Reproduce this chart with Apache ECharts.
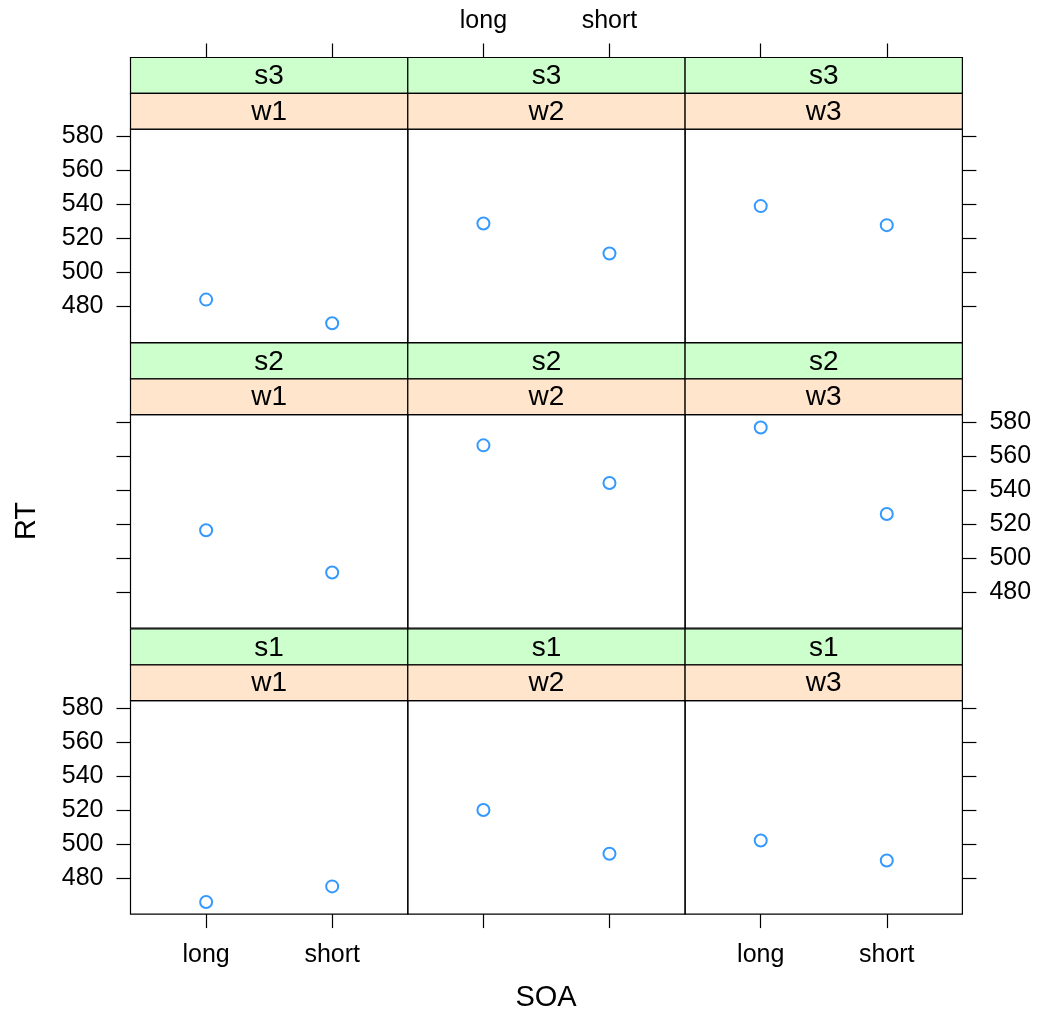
<!DOCTYPE html>
<html>
<head>
<meta charset="utf-8">
<script src="https://cdn.jsdelivr.net/npm/echarts@6/dist/echarts.min.js"></script>
<style>
  html, body { margin: 0; padding: 0; background: #fff; }
  #chart { width: 1037px; height: 1013px; }
</style>
</head>
<body>
<div id="chart"></div>
<script>
// data: RT by SOA, one panel per (s, w)
const soaLevels = ['long', 'short']
const wLevels = ['w1', 'w2', 'w3']
const sLevels = ['s3', 's2', 's1'] // top row to bottom row
const yTicks = [480, 500, 520, 540, 560, 580]

const rtS3Long = [484.0, 528.8, 539.0]
const rtS3Short = [470.1, 511.1, 527.8]
const rtS2Long = [516.3, 566.2, 576.7]
const rtS2Short = [491.4, 544.1, 525.8]
const rtS1Long = [465.8, 519.9, 502.0]
const rtS1Short = [475.0, 494.2, 490.2]

const rtByRow = [
  [rtS3Long, rtS3Short],
  [rtS2Long, rtS2Short],
  [rtS1Long, rtS1Short]
]

// layout
const FONT = '"Liberation Sans", Arial, Helvetica, sans-serif'
const left0 = 130.5
const colW = 277.3
const rowTop = [57.5, 343, 629]
const stripH = 35.8
const panelH = 213.5
const yMin = 458.7
const yMax = 584.3

const grids = []
const xAxes = []
const yAxes = []
const series = []
const graphics = []

for (let r = 0; r < 3; r++) {
  for (let c = 0; c < 3; c++) {
    const i = r * 3 + c
    const x0 = left0 + c * colW
    const top = rowTop[r] + stripH * 2

    grids.push({
      left: x0, top: top, width: colW, height: panelH,
      show: true, borderColor: '#000', borderWidth: 1.2,
      backgroundColor: 'transparent'
    })

    // top row: ticks sit above the strips, so push the axis up past them
    const xShow = r !== 1
    const xLabel = (r === 0 && c === 1) || (r === 2 && c !== 1)
    xAxes.push({
      gridIndex: i, type: 'value', min: 0.4, max: 2.6,
      show: xShow, position: r === 0 ? 'top' : 'bottom',
      offset: r === 0 ? stripH * 2 : 0,
      axisLine: { show: false },
      splitLine: { show: false },
      axisTick: { show: true, length: 14, customValues: [1, 2], lineStyle: { color: '#000', width: 1.2 } },
      axisLabel: {
        show: xLabel, customValues: [1, 2], margin: r === 0 ? 24 : 29,
        formatter: v => soaLevels[Math.round(v) - 1],
        color: '#000', fontSize: 25, fontFamily: FONT
      }
    })

    const yShow = c !== 1
    const yLabel = (c === 0 && r !== 1) || (c === 2 && r === 1)
    yAxes.push({
      gridIndex: i, type: 'value', min: yMin, max: yMax,
      show: yShow, position: c === 0 ? 'left' : 'right',
      axisLine: { show: false },
      splitLine: { show: false },
      axisTick: { show: true, length: 14, customValues: yTicks, lineStyle: { color: '#000', width: 1.2 } },
      axisLabel: {
        show: yLabel, customValues: yTicks, margin: 27,
        color: '#000', fontSize: 25, fontFamily: FONT
      }
    })

    const [longArr, shortArr] = rtByRow[r]
    series.push({
      type: 'scatter', xAxisIndex: i, yAxisIndex: i,
      symbol: 'emptyCircle', symbolSize: 12,
      itemStyle: { color: '#0080ff', borderColor: '#0080ff', borderWidth: 2 },
      data: [[1, longArr[c]], [2, shortArr[c]]],
      silent: true
    })

    // strips: s on top (green), w below (peach)
    const strips = [
      { label: sLevels[r], fill: '#ccffcc', y: rowTop[r] },
      { label: wLevels[c], fill: '#ffe5cc', y: rowTop[r] + stripH }
    ]
    strips.forEach(s => {
      graphics.push({
        type: 'rect',
        shape: { x: x0, y: s.y, width: colW, height: stripH },
        style: { fill: s.fill, stroke: '#000', lineWidth: 1.2 }
      })
      graphics.push({
        type: 'text',
        x: x0 + colW / 2, y: s.y + stripH / 2 + 1,
        style: { text: s.label, fill: '#000', font: '28px ' + FONT, align: 'center', verticalAlign: 'middle' }
      })
    })
  }
}

graphics.push({
  type: 'text', x: 546, y: 998,
  style: { text: 'SOA', fill: '#000', font: '29px ' + FONT, align: 'center', verticalAlign: 'middle' }
})
graphics.push({
  type: 'text', x: 27, y: 521, rotation: Math.PI / 2,
  style: { text: 'RT', fill: '#000', font: '29px ' + FONT, align: 'center', verticalAlign: 'middle' }
})

const chart = echarts.init(document.getElementById('chart'), null, { renderer: 'canvas' })
chart.setOption({
  animation: false,
  backgroundColor: '#fff',
  grid: grids,
  xAxis: xAxes,
  yAxis: yAxes,
  series: series,
  graphic: graphics
})
</script>
</body>
</html>
